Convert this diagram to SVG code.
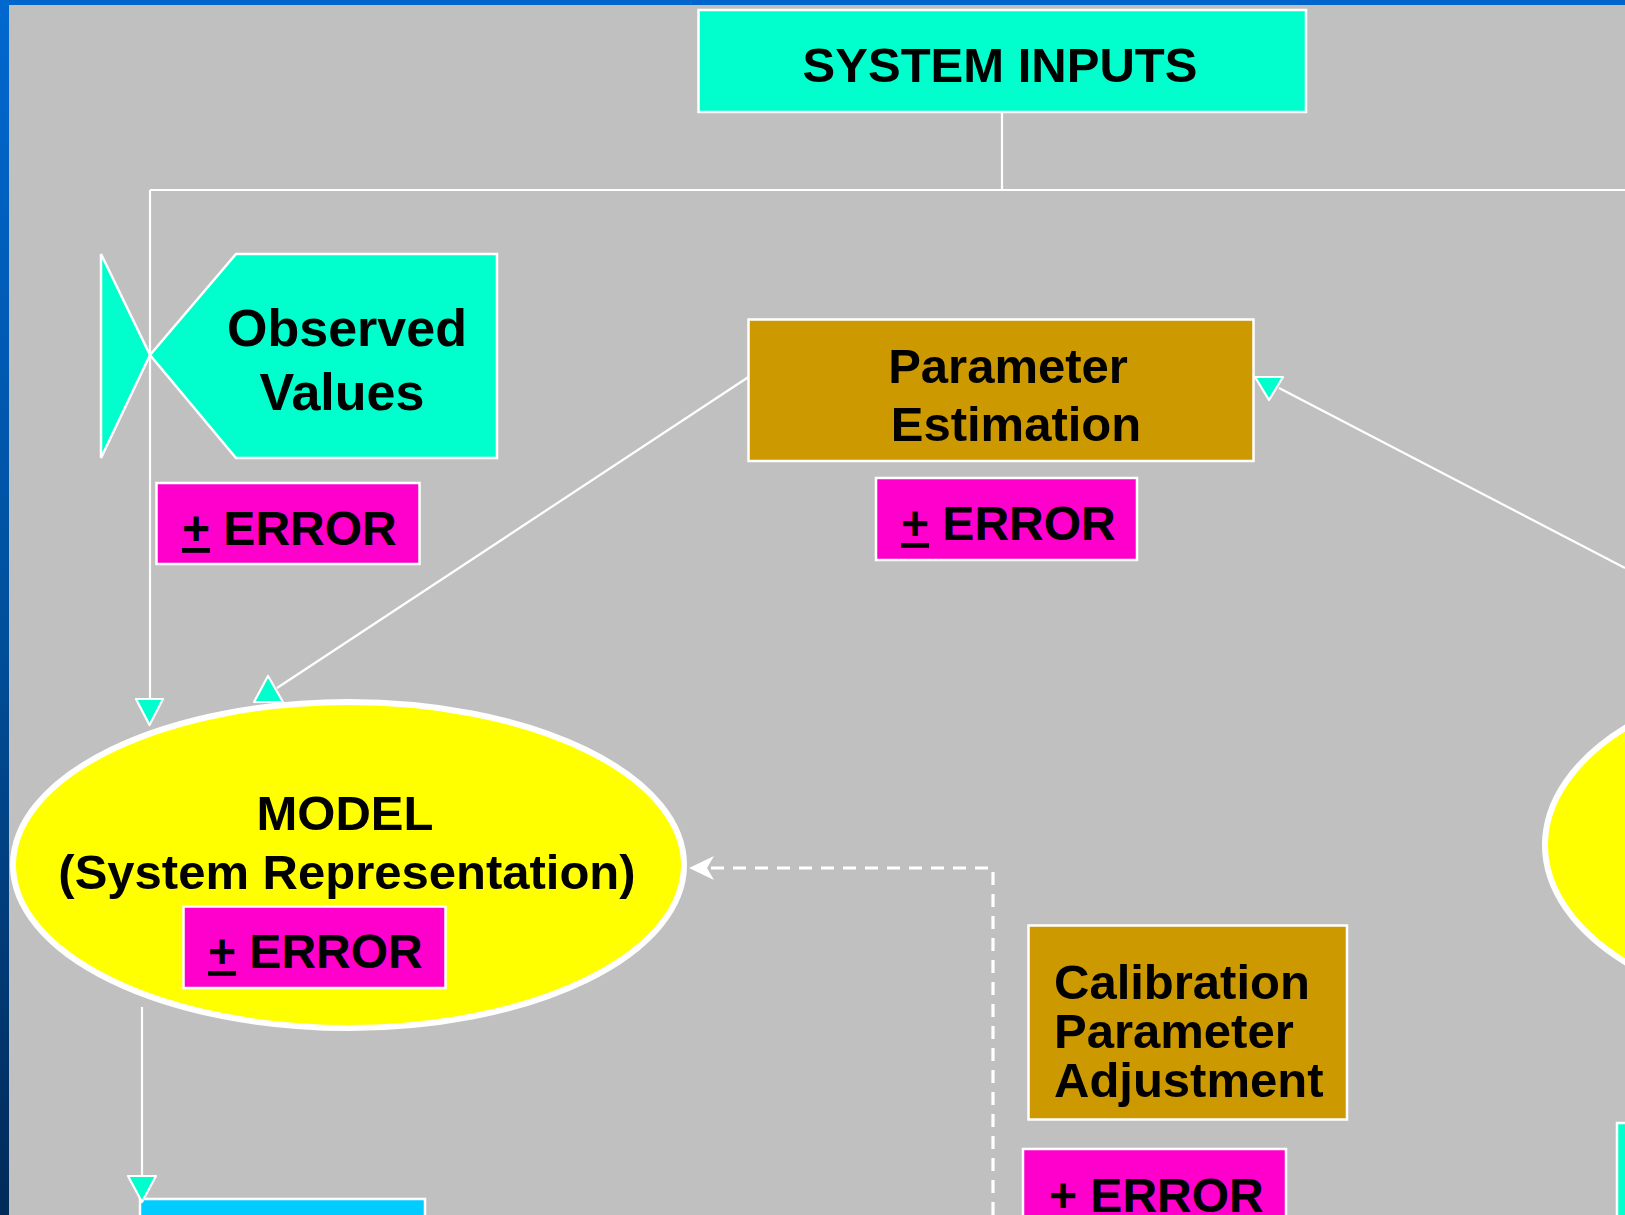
<svg xmlns="http://www.w3.org/2000/svg" width="1625" height="1215" viewBox="0 0 1625 1215">
  <defs>
    <linearGradient id="edge" x1="0" y1="0" x2="0" y2="1">
      <stop offset="0" stop-color="#0068D0"/>
      <stop offset="0.5" stop-color="#00509E"/>
      <stop offset="1" stop-color="#002A58"/>
    </linearGradient>
    <style>
      .box { stroke: #FFFFFF; stroke-width: 2.5; }
      .cyan { fill: #00FFCC; }
      .gold { fill: #CC9900; }
      .pink { fill: #FF00CC; }
      .sky { fill: #00CCFF; }
      .oval { fill: #FFFF00; stroke: #FFFFFF; stroke-width: 6; }
      .lbl { font-family: "Liberation Sans", Arial, sans-serif; font-weight: bold; fill: #000000; }
      .c { text-anchor: middle; }
      .wire { fill: none; stroke: #FFFFFF; stroke-width: 2.2; }
      .dash { fill: none; stroke: #FFFFFF; stroke-width: 3.2; stroke-dasharray: 13 9; }
      .head { fill: #00FFCC; stroke: #FFFFFF; stroke-width: 2.2; stroke-linejoin: round; }
      .u { text-decoration: underline; }
    </style>
  </defs>

  <!-- slide background -->
  <rect x="0" y="0" width="1625" height="1215" fill="#C0C0C0"/>
  <rect x="0" y="0" width="1625" height="5" fill="#0066CC"/>
  <rect x="0" y="0" width="9" height="1215" fill="url(#edge)"/>

  <!-- nodes -->
  <g id="system-inputs">
    <rect class="box cyan" x="698.5" y="10" width="607.5" height="102"/>
    <text class="lbl c" x="1000" y="82" font-size="49">SYSTEM INPUTS</text>
  </g>

  <g id="observed-values">
    <polygon class="box cyan" points="101,254 150,355 101,458"/>
    <polygon class="box cyan" points="150,355 236,254 497,254 497,458 236,458"/>
    <text class="lbl c" x="347" y="346" font-size="52">Observed</text>
    <text class="lbl c" x="342" y="410" font-size="52">Values</text>
  </g>

  <g id="observed-error">
    <rect class="box pink" x="156.5" y="483" width="263" height="81"/>
    <text class="lbl" x="182" y="545" font-size="48"><tspan class="u">+</tspan> ERROR</text>
  </g>

  <g id="parameter-estimation">
    <rect class="box gold" x="748.5" y="319.5" width="505" height="141.5"/>
    <text class="lbl c" x="1008" y="383" font-size="49">Parameter</text>
    <text class="lbl c" x="1016" y="441" font-size="49">Estimation</text>
  </g>

  <g id="parameter-error">
    <rect class="box pink" x="876" y="478" width="261" height="82"/>
    <text class="lbl" x="901" y="540" font-size="48"><tspan class="u">+</tspan> ERROR</text>
  </g>

  <g id="model">
    <ellipse class="oval" cx="348.5" cy="865" rx="335.5" ry="163"/>
    <text class="lbl c" x="345" y="830" font-size="49">MODEL</text>
    <text class="lbl c" x="347" y="889" font-size="49">(System Representation)</text>
  </g>

  <g id="model-error">
    <rect class="box pink" x="183.5" y="906.5" width="262" height="81.5"/>
    <text class="lbl" x="208" y="968" font-size="48"><tspan class="u">+</tspan> ERROR</text>
  </g>

  <g id="calibration">
    <rect class="box gold" x="1028.5" y="925.5" width="318.5" height="194"/>
    <text class="lbl" x="1054" y="999" font-size="49">Calibration</text>
    <text class="lbl" x="1054" y="1048" font-size="49">Parameter</text>
    <text class="lbl" x="1054" y="1097" font-size="49">Adjustment</text>
  </g>

  <g id="calibration-error">
    <rect class="box pink" x="1023" y="1149" width="263" height="82"/>
    <text class="lbl" x="1049" y="1212" font-size="48"><tspan class="u">+</tspan> ERROR</text>
  </g>

  <g id="output">
    <rect class="box sky" x="140" y="1199" width="285" height="40"/>
  </g>

  <g id="right-oval">
    <ellipse class="oval" cx="1845" cy="845" rx="300" ry="172"/>
  </g>

  <g id="right-box">
    <rect class="box cyan" x="1617" y="1123" width="40" height="120"/>
  </g>

  <!-- connectors -->
  <g id="connectors">
    <path class="wire" d="M1002,112 V190 M150,190 H1625 M150,190 V700"/>
    <polygon class="head" points="136,699 163,699 149.5,725"/>

    <line class="wire" x1="748.5" y1="377" x2="277" y2="688"/>
    <polygon class="head" points="268,676 283,702 254,702"/>

    <line class="wire" x1="1625" y1="568" x2="1279" y2="388"/>
    <polygon class="head" points="1255,377 1283,377 1269,400"/>

    <line class="wire" x1="142" y1="1007" x2="142" y2="1176"/>
    <polygon class="head" points="128,1176 156,1176 142,1202"/>

    <path class="dash" d="M993,1215 V868 H708"/>
    <polygon fill="#FFFFFF" points="689,868 714,856 707,868 714,880"/>
  </g>
</svg>
